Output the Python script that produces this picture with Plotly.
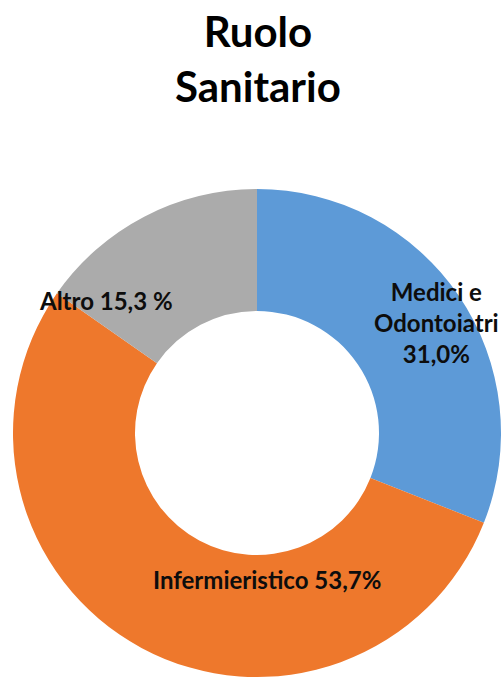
import plotly.graph_objects as go

categories = ["Medici e Odontoiatri", "Infermieristico", "Altro"]
values = [31.0, 53.7, 15.3]
label_texts = ["Medici e<br>Odontoiatri<br>31,0%", "Infermieristico 53,7%", "Altro 15,3 %"]
colors = ["#5D9AD7", "#EE782C", "#ABABAB"]

W, H = 504, 677
# desired page pixel positions (x, y from top)
label_px = [(436, 322), (267, 579), (106, 300)]
pie_left, pie_top, pie_size = 12, 189, 490


def fx(px):
    return px / W


def fy(py):
    return 1 - py / H


fig = go.Figure()
fig.add_trace(go.Pie(
    labels=categories,
    values=values,
    hole=0.5,
    sort=False,
    direction="clockwise",
    rotation=0,
    marker=dict(colors=colors, line=dict(width=0)),
    textinfo="none",
    hoverinfo="label+percent",
    domain=dict(x=[fx(pie_left), fx(pie_left + pie_size)],
                y=[max(0.0, fy(pie_top + pie_size)), fy(pie_top)]),
    showlegend=False,
))

for txt, (px, py) in zip(label_texts, label_px):
    fig.add_annotation(
        x=fx(px), y=fy(py), xref="paper", yref="paper",
        text="<b>" + txt + "</b>", showarrow=False,
        font=dict(family="Lato", size=24, color="#0D0D0D"),
        align="center", xanchor="center", yanchor="middle",
    )

fig.add_annotation(
    x=fx(258), y=fy(58), xref="paper", yref="paper",
    text="<b>Ruolo<br>Sanitario</b>", showarrow=False,
    font=dict(family="Lato", size=42, color="#000000"),
    align="center", xanchor="center", yanchor="middle",
)

fig.update_layout(
    width=W, height=H,
    margin=dict(l=0, r=0, t=0, b=0),
    paper_bgcolor="white",
    plot_bgcolor="white",
)

fig.write_html(
    "out.html",
    config={"displayModeBar": False},
    post_script="document.body.style.margin='0';document.body.style.overflow='hidden';",
)
